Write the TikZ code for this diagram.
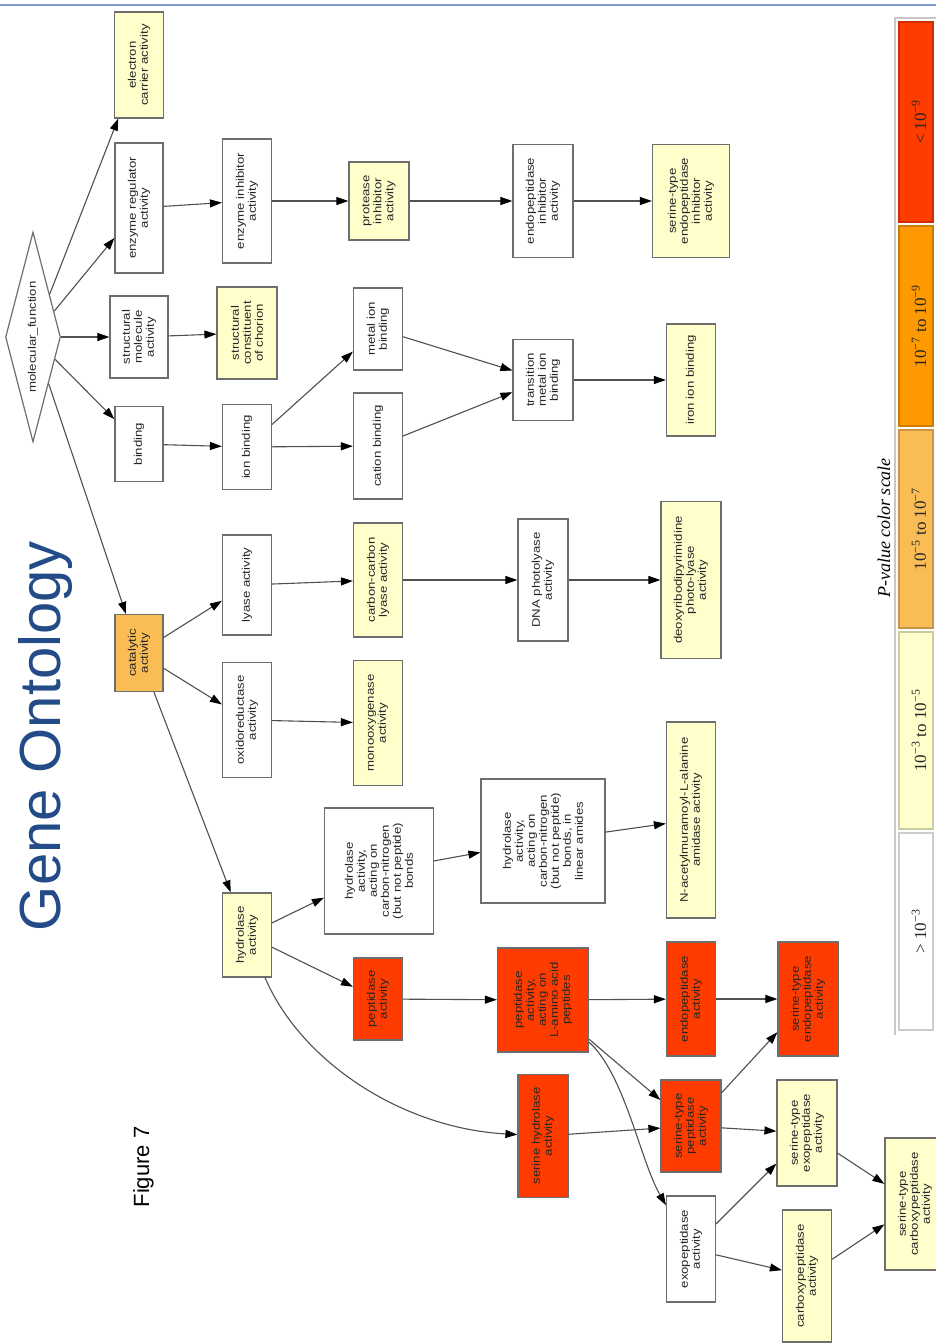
\documentclass[tikz,border=0pt]{standalone}
\usepackage{fontspec}
\setmainfont{Liberation Sans}
\newfontfamily\termfont[FakeStretch=1.2]{Liberation Sans}
\newfontfamily\pvalfont{Liberation Serif}
\usetikzlibrary{shapes.geometric,arrows.meta}

\definecolor{boxline}{RGB}{110,110,110}
\definecolor{edgeline}{RGB}{80,80,80}
\definecolor{pthreefill}{RGB}{255,255,204}
\definecolor{pfivefill}{RGB}{250,188,85}
\definecolor{psevenfill}{RGB}{255,153,0}
\definecolor{pninefill}{RGB}{255,60,0}
\definecolor{titleblue}{RGB}{35,75,135}
\definecolor{rulecol}{RGB}{125,155,205}

\tikzset{
  box/.style={draw=boxline,line width=1.2pt,rotate=90,inner sep=2pt,
    align=center,text=black!85,font=\termfont\fontsize{11}{12}\selectfont},
  pnone/.style={box,fill=white},
  pthree/.style={box,fill=pthreefill},
  pfive/.style={box,fill=pfivefill},
  pnine/.style={box,fill=pninefill},
  sz/.style 2 args={minimum height=#1pt,minimum width=#2pt},
  arr/.style={draw=edgeline,line width=1.1pt,
    -{Triangle[length=12pt,width=8pt,color=black]}}
}

\begin{document}
\begin{tikzpicture}[x=1pt,y=-1pt]
  \fill[white] (0,0) rectangle (936,1343);
  \useasboundingbox (0,0) rectangle (936,1343);
  \draw[rulecol,line width=2.5pt] (0,5) -- (936,5);

  % ---------- headings ----------
  \node[rotate=90,anchor=base,text=titleblue,font=\fontsize{58}{60}\selectfont]
    (title) at (60,736) {Gene Ontology};
  \node[rotate=90,anchor=base,font=\fontsize{22}{24}\selectfont]
    (fig) at (149,1167) {Figure 7};

  % ---------- root ----------
  \node[draw=boxline,line width=1.2pt,shape=diamond,shape aspect=4,rotate=90,
    inner sep=0pt,minimum width=210pt,minimum height=55pt,text=black!85,
    font=\termfont\fontsize{11}{12}\selectfont] (mf) at (33,337) {molecular\_function};

  % ---------- level 1 ----------
  \node[pthree,sz={49}{106}] (eca) at (139,65) {electron\\carrier activity};
  \node[pnone,sz={48}{130}] (era) at (139,208) {enzyme regulator\\activity};
  \node[pnone,sz={58}{82}] (sma) at (139,337) {structural\\molecule\\activity};
  \node[pnone,sz={48}{75}] (bnd) at (139,444) {binding};
  \node[pfive,sz={48}{77}] (cat) at (139,653) {catalytic\\activity};

  % ---------- level 2 ----------
  \node[pnone,sz={49}{124}] (eia) at (247,201) {enzyme inhibitor\\activity};
  \node[pthree,sz={60}{92}] (scc) at (247,333) {structural\\constituent\\of chorion};
  \node[pnone,sz={49}{85}] (ibd) at (247,447) {ion binding};
  \node[pnone,sz={49}{100}] (lya) at (247,585) {lyase activity};
  \node[pnone,sz={49}{115}] (oxr) at (247,720) {oxidoreductase\\activity};
  \node[pthree,sz={49}{84}] (hyd) at (247,935) {hydrolase\\activity};

  % ---------- level 3 ----------
  \node[pthree,sz={60}{78}] (pia) at (379,201) {protease\\inhibitor\\activity};
  \node[pnone,sz={49}{82}] (mib) at (378,329) {metal ion\\binding};
  \node[pnone,sz={49}{106}] (cbd) at (378,446) {cation binding};
  \node[pthree,sz={49}{114}] (ccl) at (378,580) {carbon-carbon\\lyase activity};
  \node[pthree,sz={49}{125}] (mox) at (378,723) {monooxygenase\\activity};
  \node[pnone,sz={109}{126}] (hcn) at (379,871)
    {hydrolase\\activity,\\acting on\\carbon-nitrogen\\(but not peptide)\\bonds};
  \node[pnine,sz={49}{82}] (pep) at (378,999) {peptidase\\activity};

  % ---------- level 4 ----------
  \node[pnone,sz={60}{113}] (epi) at (543,201) {endopeptidase\\inhibitor\\activity};
  \node[pnone,sz={60}{81}] (tmb) at (543,380) {transition\\metal ion\\binding};
  \node[pnone,sz={50}{122}] (dpl) at (543,580) {DNA photolyase\\activity};
  \node[pnone,sz={124}{124}] (hla) at (543,841)
    {hydrolase\\activity,\\acting on\\carbon-nitrogen\\(but not peptide)\\bonds, in\\linear amides};
  \node[pnine,sz={91}{104}] (lam) at (543,1000)
    {peptidase\\activity,\\acting on\\L-amino acid\\peptides};
  \node[pnine,sz={50}{123}] (sh) at (543,1136) {serine hydrolase\\activity};

  % ---------- level 5 ----------
  \node[pthree,sz={77}{113}] (sti) at (691,201)
    {serine-type\\endopeptidase\\inhibitor\\activity};
  \node[pthree,sz={49}{112}] (iib) at (691,380) {iron ion binding};
  \node[pthree,sz={60}{157}] (dpp) at (691,580)
    {deoxyribodipyrimidine\\photo-lyase\\activity};
  \node[pthree,sz={49}{196}] (nam) at (691,820)
    {N-acetylmuramoyl-L-alanine\\amidase activity};
  \node[pnine,sz={49}{114}] (edp) at (691,999) {endopeptidase\\activity};
  \node[pnine,sz={60}{92}] (stp) at (691,1126) {serine-type\\peptidase\\activity};
  \node[pnone,sz={49}{106}] (exo) at (691,1249) {exopeptidase\\activity};

  % ---------- level 6 ----------
  \node[pnine,sz={60}{114}] (ste) at (808,999) {serine-type\\endopeptidase\\activity};
  \node[pthree,sz={60}{106}] (stx) at (807,1133) {serine-type\\exopeptidase\\activity};
  \node[pthree,sz={49}{132}] (cpx) at (807,1276) {carboxypeptidase\\activity};
  \node[pthree,sz={60}{132}] (stc) at (915,1204)
    {serine-type\\carboxypeptidase\\activity};

  % ---------- edges ----------
  \draw[arr] (mf) -- (eca);
  \draw[arr] (mf) -- (era);
  \draw[arr] (mf) -- (sma);
  \draw[arr] (mf) -- (bnd);
  \draw[arr] (mf) -- (cat);
  \draw[arr] (era) -- (eia);
  \draw[arr] (eia) -- (pia);
  \draw[arr] (pia) -- (epi);
  \draw[arr] (epi) -- (sti);
  \draw[arr] (sma) -- (scc);
  \draw[arr] (bnd) -- (ibd);
  \draw[arr] (ibd) -- (mib);
  \draw[arr] (ibd) -- (cbd);
  \draw[arr] (mib) -- (tmb);
  \draw[arr] (cbd) -- (tmb);
  \draw[arr] (tmb) -- (iib);
  \draw[arr] (cat) -- (lya);
  \draw[arr] (cat) -- (oxr);
  \draw[arr] (cat) -- (hyd);
  \draw[arr] (lya) -- (ccl);
  \draw[arr] (oxr) -- (mox);
  \draw[arr] (ccl) -- (dpl);
  \draw[arr] (dpl) -- (dpp);
  \draw[arr] (hyd) -- (hcn);
  \draw[arr] (hyd) -- (pep);
  \draw[arr] (hyd) .. controls (300,1060) and (400,1128) .. (sh);
  \draw[arr] (hcn) -- (hla);
  \draw[arr] (hla) -- (nam);
  \draw[arr] (pep) -- (lam);
  \draw[arr] (lam) -- (edp);
  \draw[arr] (lam) -- (stp);
  \draw[arr] (lam) .. controls (625,1075) and (640,1160) .. (exo);
  \draw[arr] (sh) -- (stp);
  \draw[arr] (edp) -- (ste);
  \draw[arr] (stp) -- (ste);
  \draw[arr] (stp) -- (stx);
  \draw[arr] (exo) -- (stx);
  \draw[arr] (exo) -- (cpx);
  \draw[arr] (stx) -- (stc);
  \draw[arr] (cpx) -- (stc);

  % ---------- p-value scale ----------
  \node[rotate=90,font=\pvalfont\itshape\fontsize{18}{20}\selectfont]
    (ptitle) at (884,528) {P-value color scale};
  \draw[black!22,line width=2pt] (895,1035) -- (895,18) -- (940,18);
  \foreach \fc/\ya/\yb/\lab [count=\i] in
    {pninefill/22/222/{< 10\textsuperscript{−9}},
     psevenfill/226/426/{10\textsuperscript{−7} to 10\textsuperscript{−9}},
     pfivefill/430/628/{10\textsuperscript{−5} to 10\textsuperscript{−7}},
     pthreefill/632/829/{10\textsuperscript{−3} to 10\textsuperscript{−5}},
     white/833/1030/{> 10\textsuperscript{−3}}}{
    \filldraw[fill=\fc,draw=\fc!80!black,line width=1.2pt] (899,\ya) rectangle (933,\yb);
    \node[rotate=90,font=\pvalfont\fontsize{17}{19}\selectfont,text=black!85]
      (band\i) at (919,{(\ya+\yb)/2}) {\lab};
  }
\end{tikzpicture}
\end{document}
